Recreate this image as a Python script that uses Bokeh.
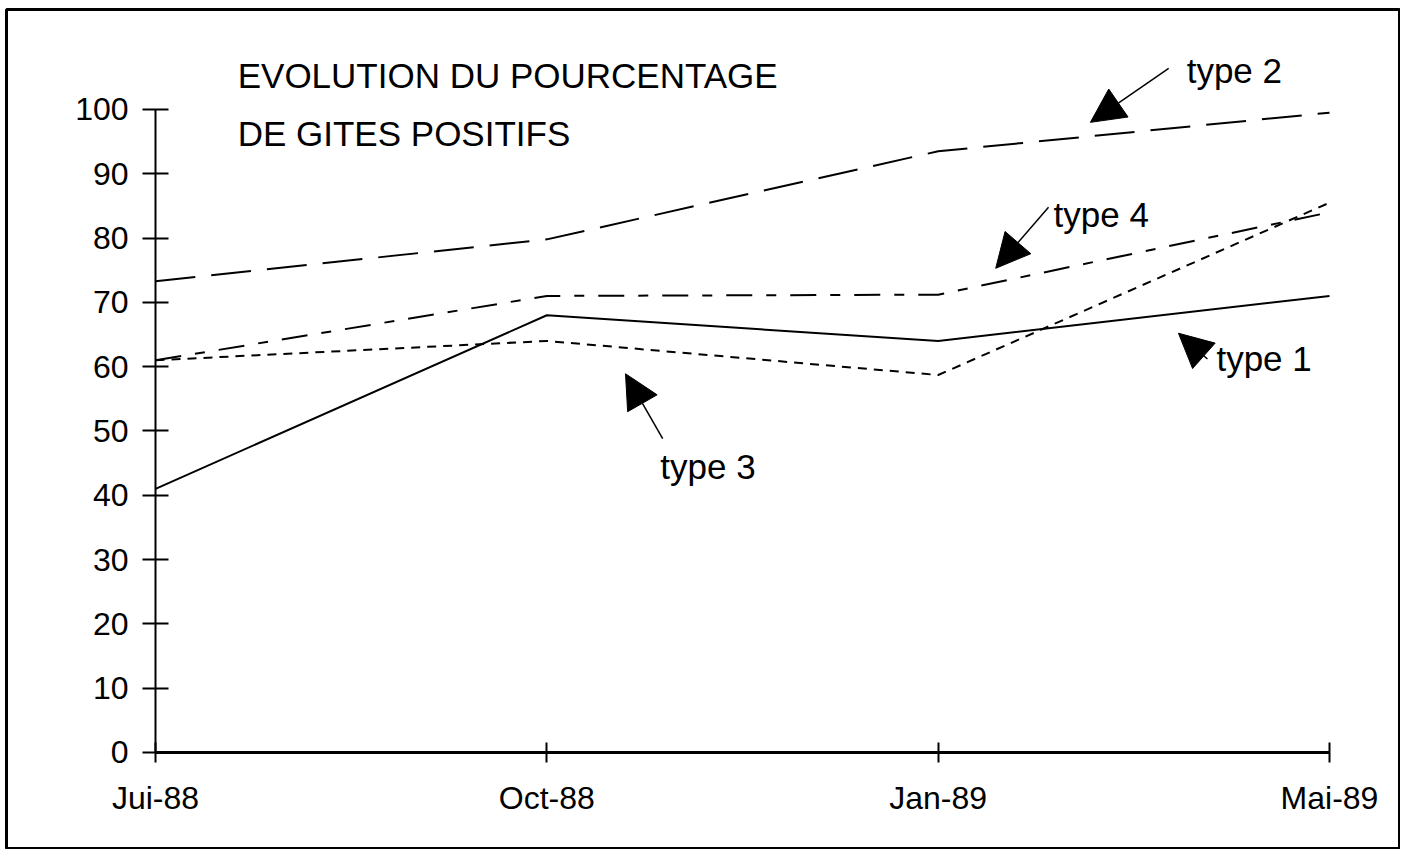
from bokeh.plotting import figure
from bokeh.models import Range1d, FixedTicker, Label, Arrow, NormalHead, LinearAxis
from bokeh.embed import file_html
from bokeh.resources import INLINE

# ---- data ----
months = ["Jui-88", "Oct-88", "Jan-89", "Mai-89"]
type1 = [41.0, 68.0, 64.0, 71.0]
type2 = [73.3, 79.8, 93.5, 99.5]
type3 = [61.0, 64.0, 58.7, 85.5]
type4 = [61.0, 71.0, 71.2, 84.0]
y_ticks = [0, 10, 20, 30, 40, 50, 60, 70, 80, 90, 100]
series_labels = ["type 1", "type 2", "type 3", "type 4"]
title_lines = ["EVOLUTION DU POURCENTAGE", "DE GITES POSITIFS"]

x = list(range(len(months)))

FONT = "Liberation Sans"

p = figure(width=1400, height=849,
           x_range=Range1d(-0.3808, 3.1814), y_range=Range1d(-15.09, 115.55),
           output_backend="svg", toolbar_location=None,
           x_axis_location=None, y_axis_location=None,
           min_border=0, min_border_left=6, min_border_top=9)
p.xgrid.visible = False
p.ygrid.visible = False
p.outline_line_color = "black"
p.outline_line_width = 3
p.background_fill_color = "white"
p.border_fill_color = "white"

xaxis = LinearAxis(fixed_location=0, bounds=(0, len(months) - 1),
                   ticker=FixedTicker(ticks=x),
                   major_label_overrides={i: m for i, m in enumerate(months)})
xaxis.axis_line_width = 3
xaxis.axis_line_color = "black"
xaxis.major_tick_line_width = 2
xaxis.major_tick_line_color = "black"
xaxis.major_tick_in = 10
xaxis.major_tick_out = 10
xaxis.minor_tick_line_color = None
xaxis.major_label_text_font = FONT
xaxis.major_label_text_font_size = "32px"
xaxis.major_label_text_color = "black"
xaxis.major_label_standoff = 18
p.add_layout(xaxis, "below")

yaxis = LinearAxis(fixed_location=0, bounds=(0, 100),
                   ticker=FixedTicker(ticks=y_ticks))
yaxis.axis_line_width = 2
yaxis.axis_line_color = "black"
yaxis.major_tick_line_width = 2
yaxis.major_tick_line_color = "black"
yaxis.major_tick_in = 13
yaxis.major_tick_out = 13
yaxis.minor_tick_line_color = None
yaxis.major_label_text_font = FONT
yaxis.major_label_text_font_size = "32px"
yaxis.major_label_text_color = "black"
yaxis.major_label_standoff = 14
p.add_layout(yaxis, "left")

p.line(x, type1, line_color="black", line_width=2)
p.line(x, type2, line_color="black", line_width=2, line_dash="40 16")
p.line(x, type3, line_color="black", line_width=2, line_dash="9 7")
p.line(x, type4, line_color="black", line_width=2, line_dash="26 14 10 14")

# title
p.add_layout(Label(x=0.21, y=102.2, text=title_lines[0], text_font=FONT,
                   text_font_size="35px", text_color="black"))
p.add_layout(Label(x=0.21, y=93.3, text=title_lines[1], text_font=FONT,
                   text_font_size="35px", text_color="black"))

# series annotations: (label, label x, label y, arrow start, arrow end)
annots = [
    (series_labels[1], 2.635, 103.0, (2.589, 106.4), (2.389, 98.0)),
    (series_labels[3], 2.295, 80.7, (2.282, 84.8), (2.147, 75.3)),
    (series_labels[0], 2.711, 58.2, (2.688, 61.2), (2.614, 65.2)),
    (series_labels[2], 1.290, 41.5, (1.296, 48.8), (1.201, 58.9)),
]
for txt, lx, ly, (xs, ys), (xe, ye) in annots:
    p.add_layout(Label(x=lx, y=ly, text=txt, text_font=FONT,
                       text_font_size="35px", text_color="black"))
    p.add_layout(Arrow(x_start=xs, y_start=ys, x_end=xe, y_end=ye,
                       line_color="black", line_width=1.5,
                       end=NormalHead(size=34, fill_color="black",
                                      line_color="black")))

open("out.html", "w").write(file_html(p, INLINE))
